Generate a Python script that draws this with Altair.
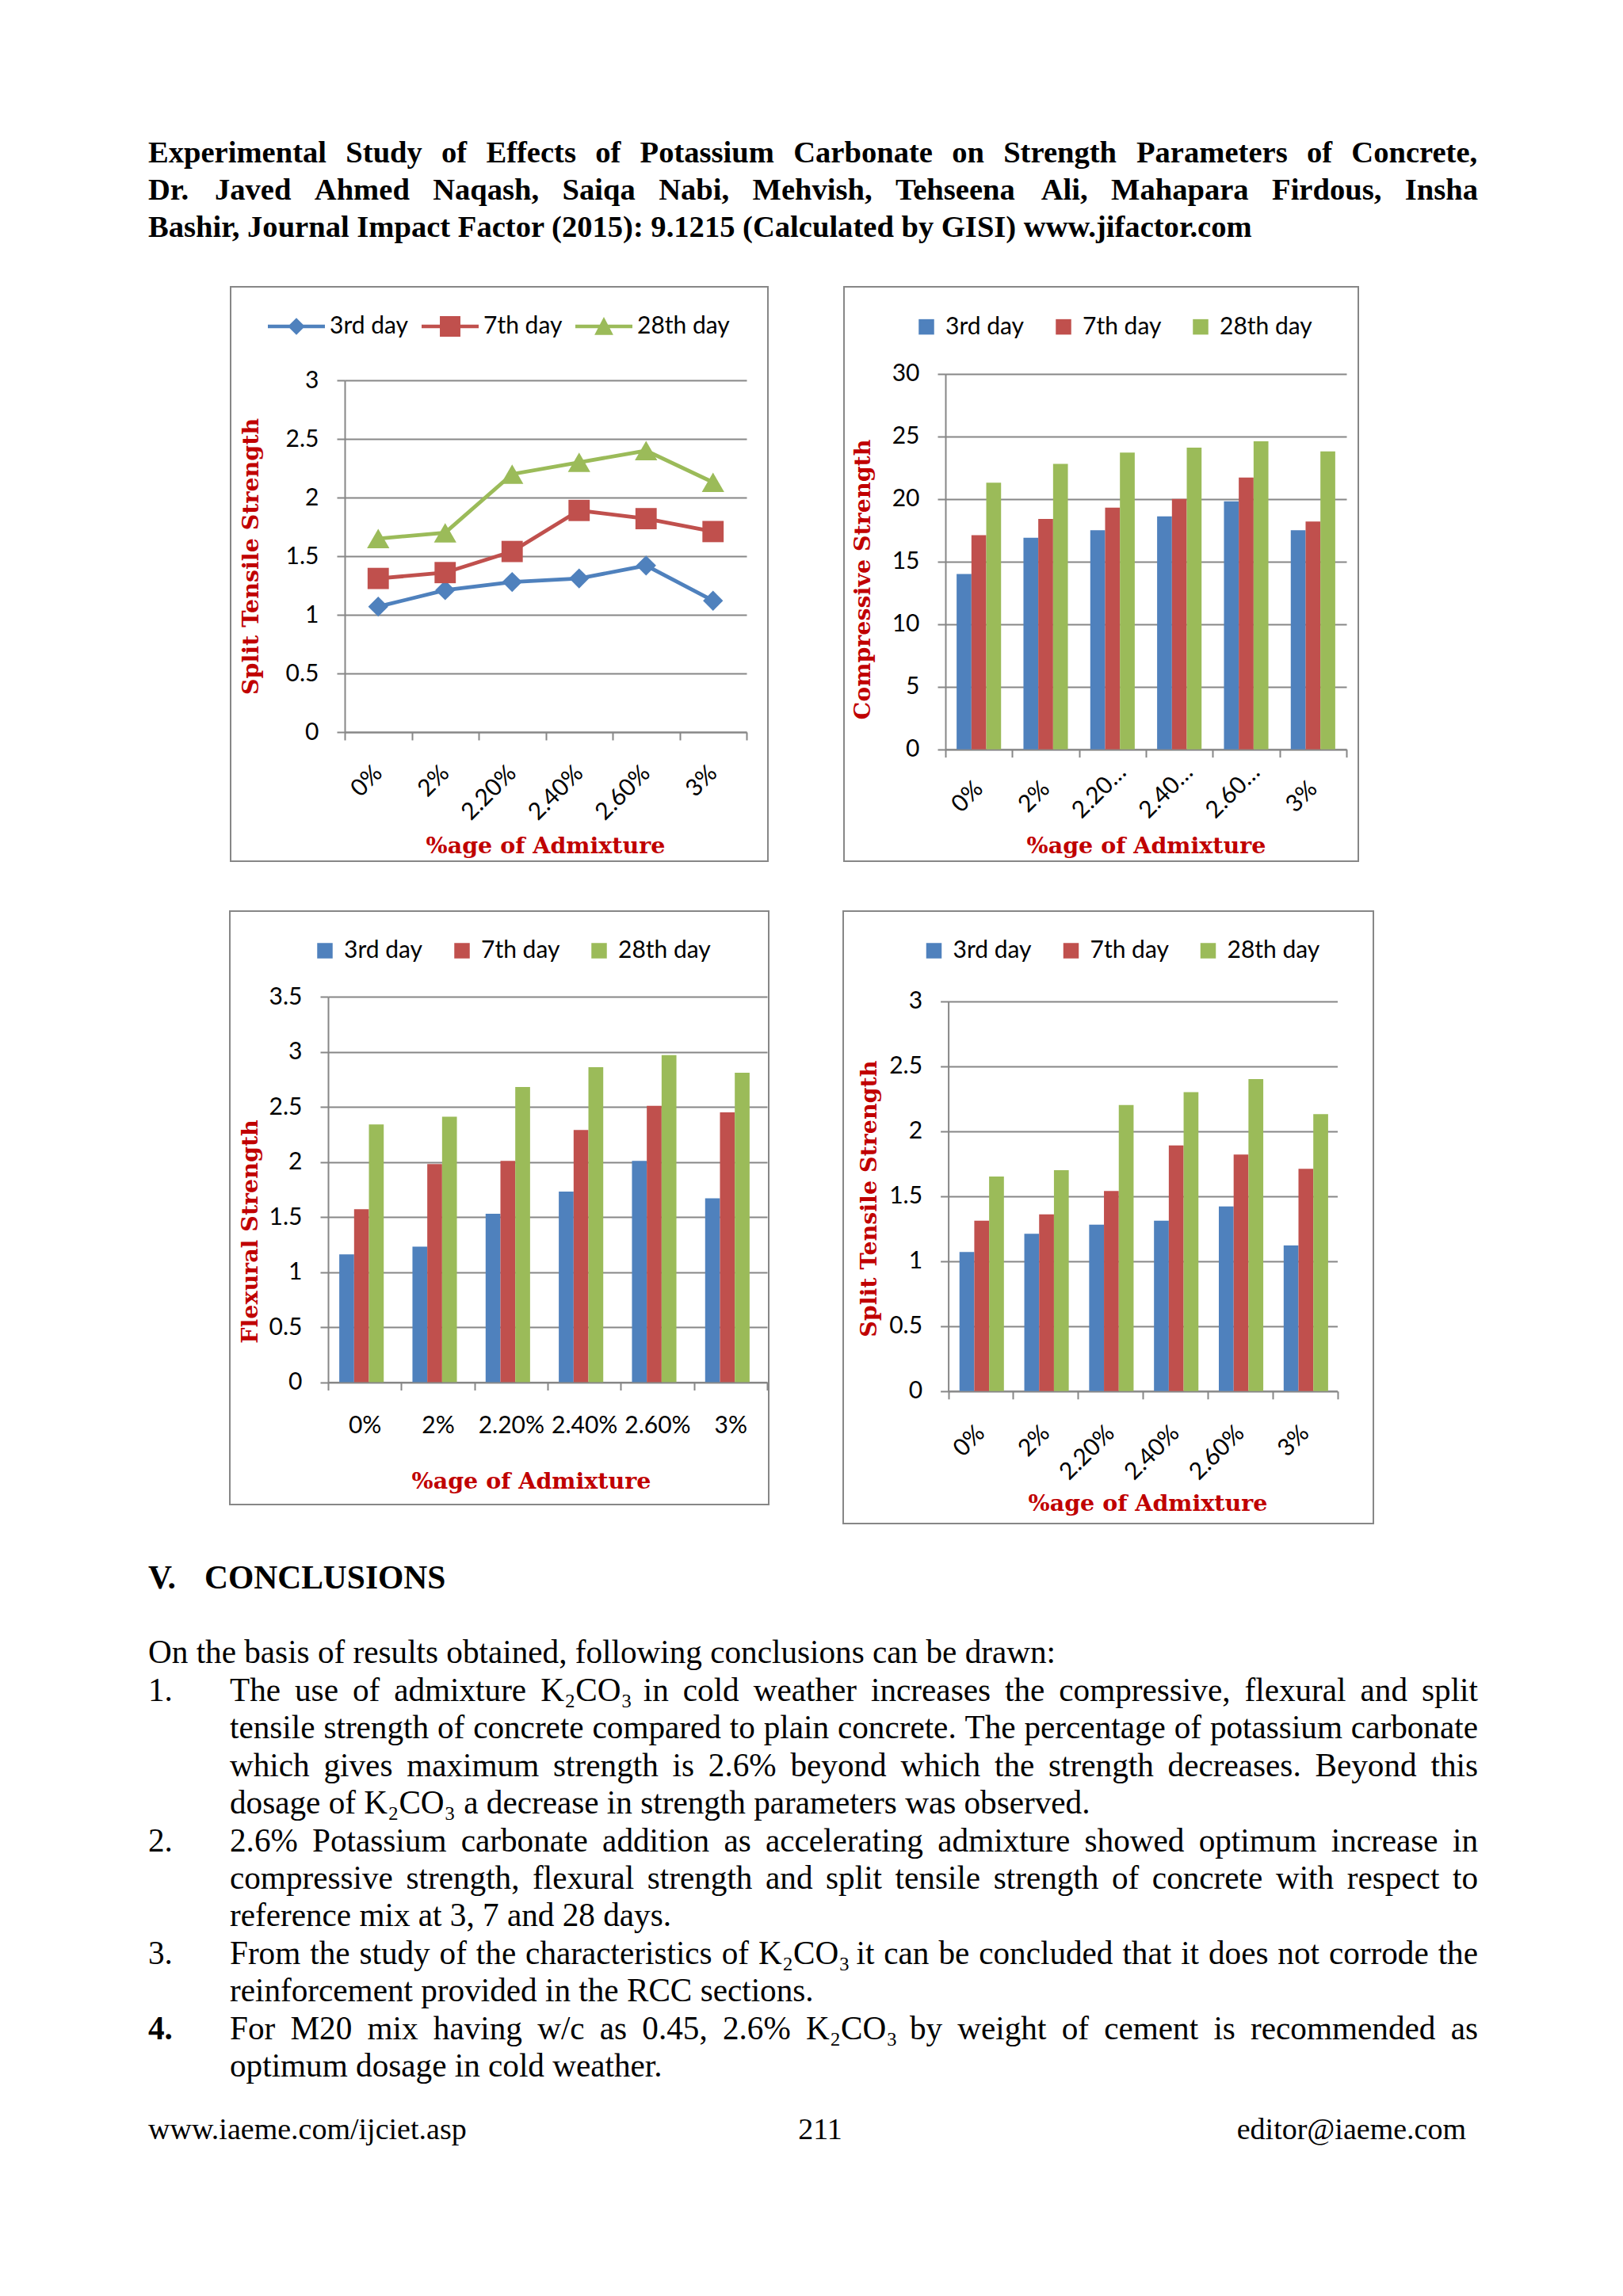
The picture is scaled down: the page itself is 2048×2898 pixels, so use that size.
import altair as alt
import pandas as pd

# ---------------- chart values ----------------
CATEGORIES = ["0%", "2%", "2.20%", "2.40%", "2.60%", "3%"]
SERIES = ["3rd day", "7th day", "28th day"]

SPLIT_3RD = [1.07, 1.21, 1.28, 1.31, 1.42, 1.12]
SPLIT_7TH = [1.31, 1.36, 1.54, 1.89, 1.82, 1.71]
SPLIT_28TH = [1.65, 1.70, 2.20, 2.30, 2.40, 2.13]

COMP_3RD = [14.0, 16.9, 17.5, 18.6, 19.8, 17.5]
COMP_7TH = [17.1, 18.4, 19.3, 20.0, 21.7, 18.2]
COMP_28TH = [21.3, 22.8, 23.7, 24.1, 24.6, 23.8]

FLEX_3RD = [1.16, 1.23, 1.53, 1.73, 2.01, 1.67]
FLEX_7TH = [1.57, 1.98, 2.01, 2.29, 2.51, 2.45]
FLEX_28TH = [2.34, 2.41, 2.68, 2.86, 2.97, 2.81]

SPLIT_TICKS = [0, 0.5, 1, 1.5, 2, 2.5, 3]
COMP_TICKS = [0, 5, 10, 15, 20, 25, 30]
FLEX_TICKS = [0, 0.5, 1, 1.5, 2, 2.5, 3, 3.5]

# ---------------- page text ----------------
HEADER_LINES = [
    "Experimental Study of Effects of Potassium Carbonate on Strength Parameters of Concrete,",
    "Dr. Javed Ahmed Naqash, Saiqa Nabi, Mehvish, Tehseena Ali, Mahapara Firdous, Insha",
    "Bashir, Journal Impact Factor (2015): 9.1215 (Calculated by GISI) www.jifactor.com",
]
HEADER_JUSTIFY = [True, True, False]

SECTION_NUM = "V."
SECTION_TITLE = "CONCLUSIONS"

BODY_NUMBERS = ["", "1.", "", "", "", "2.", "", "", "3.", "", "4.", ""]
BODY_LINES = [
    "On the basis of results obtained, following conclusions can be drawn:",
    "The use of admixture K\u2082CO\u2083 in cold weather increases the compressive, flexural and split",
    "tensile strength of concrete compared to plain concrete. The percentage of potassium carbonate",
    "which gives maximum strength is 2.6% beyond which the strength decreases. Beyond this",
    "dosage of K\u2082CO\u2083 a decrease in strength parameters was observed.",
    "2.6% Potassium carbonate addition as accelerating admixture showed optimum increase in",
    "compressive strength, flexural strength and split tensile strength of concrete with respect to",
    "reference mix at 3, 7 and 28 days.",
    "From the study of the characteristics of K\u2082CO\u2083 it can be concluded that it does not corrode the",
    "reinforcement provided in the RCC sections.",
    "For M20 mix having w/c as 0.45, 2.6% K\u2082CO\u2083 by weight of cement is recommended as",
    "optimum dosage in cold weather.",
]
BODY_JUSTIFY = [False, True, True, True, False, True, True, False, True, False, True, False]

FOOTER_LEFT = "www.iaeme.com/ijciet.asp"
FOOTER_MID = "211"
FOOTER_RIGHT = "editor@iaeme.com"

# ---------------- styles ----------------
COLORS = ["#4F81BD", "#C0504D", "#9BBB59"]
GRID = "#878787"
TITLE_RED = "#C00000"
SERIF = "Liberation Serif"
TITLE_FONT = "DejaVu Serif"
TICK_FONT = "Lato"
M = 40  # invisible margin around every layout cell

# Times metrics (per 1000 em) for justified layout
UP = "ABCDEFGHIJKLMNOPQRSTUVWXYZ"
LO = "abcdefghijklmnopqrstuvwxyz"
REG = dict(zip(UP, [722, 667, 667, 722, 611, 556, 722, 722, 333, 389, 722, 611, 889,
                    722, 722, 556, 722, 667, 556, 611, 722, 722, 944, 722, 722, 611]))
REG.update(zip(LO, [444, 500, 444, 500, 444, 333, 500, 500, 278, 278, 500, 278, 778,
                    500, 500, 500, 500, 333, 389, 278, 500, 500, 722, 500, 500, 444]))
REG.update({" ": 250, ",": 250, ".": 250, ":": 278, ";": 278, "(": 333, ")": 333,
            "%": 833, "/": 278, "@": 921, "-": 333, "\u2082": 300, "\u2083": 300})
BOLD = dict(zip(UP, [722, 667, 722, 722, 667, 611, 778, 778, 389, 500, 778, 667, 944,
                     722, 778, 611, 778, 722, 556, 667, 722, 722, 1000, 722, 722, 667]))
BOLD.update(zip(LO, [500, 556, 444, 556, 444, 333, 500, 556, 278, 333, 556, 278, 833,
                     556, 500, 556, 556, 444, 389, 333, 556, 500, 722, 500, 500, 444]))
BOLD.update({" ": 250, ",": 250, ".": 250, ":": 333, ";": 333, "(": 333, ")": 333,
             "%": 1000, "/": 278, "-": 333})


def text_width(s, table, size):
    return sum(table.get(ch, 500) for ch in s) / 1000.0 * size


def layout_line(text, x0, x1, y, table, size, justify):
    if not justify:
        return [{"x": x0, "y": y, "t": text}]
    words = text.split(" ")
    widths = [text_width(w, table, size) for w in words]
    gap = (x1 - x0 - sum(widths)) / (len(words) - 1)
    out, x = [], x0
    for w, wd in zip(words, widths):
        out.append({"x": x, "y": y, "t": w})
        x += wd + gap
    return out


def long_df(a, b, c):
    rows = []
    for s, vals in zip(SERIES, (a, b, c)):
        for cat, v in zip(CATEGORIES, vals):
            rows.append({"cat": cat, "series": s, "value": v})
    return pd.DataFrame(rows)


ONE = pd.DataFrame({"k": [0]})


class Cell:
    """A layout cell given in page pixels; the view sits M px inside it."""
    def __init__(self, x0, y0, x1, y1):
        self.ox, self.oy = x0 + M, y0 + M
        self.W, self.H = x1 - x0 - 2 * M, y1 - y0 - 2 * M

    def rx(self, px):
        return px - self.ox

    def ry(self, py):
        return py - self.oy

    def cell_layer(self):
        return alt.Chart(ONE).mark_rect(opacity=0).encode(
            x=alt.value(-M), x2=alt.value(self.W + M), y=alt.value(-M), y2=alt.value(self.H + M))

    def frame_layer(self, x0, x1, y0, y1):
        return alt.Chart(ONE).mark_rect(fill="transparent", stroke=GRID, strokeWidth=2).encode(
            x=alt.value(self.rx(x0)), x2=alt.value(self.rx(x1)),
            y=alt.value(self.ry(y0)), y2=alt.value(self.ry(y1)))


def x_axis(offset, tx, ty, angle, pad, label_expr=None, off=0):
    kw = dict(title="%age of Admixture", titleX=tx, titleY=ty, titleAngle=0,
              titleAlign="center", titleBaseline="middle", titleFont=TITLE_FONT,
              titleFontWeight="bold", titleFontSize=28.5, titleColor=TITLE_RED,
              offset=offset, tickBand="extent", ticks=True, tickSize=10, tickColor=GRID,
              tickWidth=2, domainColor=GRID, domainWidth=2, grid=False,
              labelFont=TICK_FONT, labelFontSize=30, labelColor="black", labelAngle=angle,
              labelAlign="right" if angle else "center", labelBaseline="middle",
              labelPadding=pad, labelOffset=off, labelOverlap=False)
    if label_expr:
        kw["labelExpr"] = label_expr
    return alt.Axis(**kw)


def y_axis(title, offset, tx, ty, values):
    return alt.Axis(title=title, values=values, format="~g", offset=offset,
                    titleX=tx, titleY=ty, titleAngle=270, titleAlign="center",
                    titleBaseline="middle", titleFont=TITLE_FONT, titleFontWeight="bold",
                    titleFontSize=28.5, titleColor=TITLE_RED,
                    grid=True, gridColor=GRID, gridWidth=2, ticks=True, tickSize=10,
                    tickColor=GRID, tickWidth=2, domainColor=GRID, domainWidth=2,
                    labelFont=TICK_FONT, labelFontSize=30, labelColor="black", labelPadding=23)


def color_scale():
    return alt.Scale(domain=SERIES, range=COLORS)


def encodings(cell, plot, ydom, yticks, ytitle, ytitle_pos, xtitle_pos, angle, pad, label_expr=None, off=0):
    px0, px1, py0, py1 = plot
    X = alt.X("cat:N", sort=CATEGORIES,
              scale=alt.Scale(type="band", domain=CATEGORIES, range=[cell.rx(px0), cell.rx(px1)],
                              paddingInner=0, paddingOuter=0),
              axis=x_axis(-(cell.H - cell.ry(py1)), cell.rx(xtitle_pos[0]), xtitle_pos[1] - py1,
                          angle, pad, label_expr, off))
    Y = alt.Y("value:Q", scale=alt.Scale(domain=ydom, range=[cell.ry(py1), cell.ry(py0)], nice=False),
              axis=y_axis(ytitle, -cell.rx(px0), ytitle_pos[0] - px0, cell.ry(ytitle_pos[1]), yticks))
    return X, Y


# ---------------- layout cells (page pixels) ----------------
HEAD_CELL = Cell(8, 8, 2024, 340)
C1 = Cell(8, 340, 1016, 1120)
C2 = Cell(1016, 340, 2024, 1120)
C3 = Cell(8, 1120, 1016, 1945)
C4 = Cell(1016, 1120, 2024, 1945)
CONCL_CELL = Cell(8, 1945, 2024, 2870)

# ---------------- chart 1: split tensile (line) ----------------
split_df = long_df(SPLIT_3RD, SPLIT_7TH, SPLIT_28TH)
X1, Y1 = encodings(C1, (435, 942, 480, 924), [0, 3], SPLIT_TICKS, "Split Tensile Strength",
                   (316, 702), (688, 1067.6), -45, 37)

line1 = alt.Chart(split_df).mark_line(strokeWidth=4.8).encode(
    x=X1, y=Y1, color=alt.Color("series:N", scale=color_scale(), legend=None))
pts1 = alt.Chart(split_df).mark_point(filled=True, opacity=1, strokeWidth=0).encode(
    x=X1, y=Y1,
    color=alt.Color("series:N", scale=color_scale(), legend=None),
    shape=alt.Shape("series:N", scale=alt.Scale(domain=SERIES, range=["diamond", "square", "triangle-up"]), legend=None),
    size=alt.Size("series:O", scale=alt.Scale(domain=SERIES, range=[640, 800, 720]), legend=None))

LEG_PATHS = [
    "M-1,-0.0625H1V0.0625H-1Z M-0.3,0L0,-0.3L0.3,0L0,0.3Z",
    "M-1,-0.0625H1V0.0625H-1Z M-0.36,-0.36H0.36V0.36H-0.36Z",
    "M-1,-0.0625H1V0.0625H-1Z M-0.33,0.3L0,-0.33L0.33,0.3Z",
]
leg1_kw = dict(title=None, orient="none", legendX=C1.rx(338), legendY=C1.ry(376), direction="horizontal",
               symbolSize=5184, symbolStrokeWidth=0, labelFont=TICK_FONT, labelFontSize=30,
               labelColor="black", labelOffset=6, columnPadding=16, padding=0)
legend1 = alt.Chart(split_df).transform_filter("datum.value < 0").mark_point(
    filled=True, opacity=1, strokeWidth=0).encode(
    color=alt.Color("series:N", scale=color_scale(), legend=alt.Legend(**leg1_kw)),
    shape=alt.Shape("series:N", scale=alt.Scale(domain=SERIES, range=LEG_PATHS), legend=alt.Legend(**leg1_kw)))

chart1 = alt.layer(
    C1.cell_layer(), C1.frame_layer(291, 969, 362, 1087), line1, pts1, legend1
).resolve_scale(color="independent", shape="independent", size="independent").properties(width=C1.W, height=C1.H)


# ---------------- bar charts ----------------
def bar_chart(df, cell, plot, ydom, yticks, ytitle, ytitle_pos, xtitle_pos, angle, pad, leg_pos, frame,
              label_expr=None, off=0):
    X, Y = encodings(cell, plot, ydom, yticks, ytitle, ytitle_pos, xtitle_pos, angle, pad, label_expr, off)
    XO = alt.XOffset("series:N", sort=SERIES,
                     scale=alt.Scale(domain=SERIES, paddingInner=0, paddingOuter=0.755))
    bars = alt.Chart(df).mark_bar().encode(
        x=X, xOffset=XO, y=Y,
        color=alt.Color("series:N", scale=color_scale(), sort=SERIES,
                        legend=alt.Legend(title=None, orient="none", legendX=cell.rx(leg_pos[0]),
                                          legendY=cell.ry(leg_pos[1]), direction="horizontal",
                                          symbolType="square", symbolSize=380, symbolStrokeWidth=0,
                                          labelFont=TICK_FONT, labelFontSize=30, labelColor="black",
                                          labelOffset=9, columnPadding=34, padding=0)))
    return alt.layer(cell.cell_layer(), cell.frame_layer(*frame), bars).properties(width=cell.W, height=cell.H)


TRUNC = "length(datum.label) > 3 ? substring(datum.label, 0, 4) + '\u2026' : datum.label"
LONG = "length(datum.label) > 3"
PAD2 = {"condition": {"test": LONG, "value": 14}, "value": 35}
OFF2 = {"condition": {"test": LONG, "value": 12}, "value": 0}

chart2 = bar_chart(long_df(COMP_3RD, COMP_7TH, COMP_28TH), C2, (1193, 1699, 471.7, 945.7), [0, 30],
                   COMP_TICKS, "Compressive Strength", (1088, 731), (1446, 1067.6), -45, PAD2,
                   (1154, 397.6), (1065, 1714, 362, 1087), TRUNC, OFF2)
chart3 = bar_chart(long_df(FLEX_3RD, FLEX_7TH, FLEX_28TH), C3, (414, 968, 1258, 1744.6), [0, 3.5],
                   FLEX_TICKS, "Flexural Strength", (315, 1554), (670, 1869), 0, 45,
                   (395, 1185), (290, 970, 1150, 1899))
chart4 = bar_chart(long_df(SPLIT_3RD, SPLIT_7TH, SPLIT_28TH), C4, (1196.6, 1687.5, 1263.6, 1755.8), [0, 3],
                   SPLIT_TICKS, "Split Tensile Strength", (1096.4, 1512.7), (1448, 1897), -45, 38,
                   (1163.5, 1185), (1064, 1733, 1150, 1923))

# ---------------- text blocks ----------------
X_LEFT, X_INDENT, X_RIGHT = 187, 290, 1865
HEAD_SIZE, BODY_SIZE = 38.6, 41.2

head_rows = []
for i, (txt, j) in enumerate(zip(HEADER_LINES, HEADER_JUSTIFY)):
    head_rows += layout_line(txt, X_LEFT, X_RIGHT, 204.5 + 47.3 * i, BOLD, HEAD_SIZE, j)
head_df = pd.DataFrame(head_rows)


def text_chart(cell, layers):
    charts = [cell.cell_layer()]
    for df, kw in layers:
        charts.append(alt.Chart(df).mark_text(baseline="alphabetic", color="black", **kw).encode(
            x=alt.X("x:Q", scale=alt.Scale(domain=[cell.ox, cell.ox + cell.W], range=[0, cell.W],
                                           nice=False, zero=False), axis=None),
            y=alt.Y("y:Q", scale=alt.Scale(domain=[cell.oy, cell.oy + cell.H], range=[0, cell.H],
                                           nice=False, zero=False), axis=None),
            text="t:N"))
    return alt.layer(*charts).properties(width=cell.W, height=cell.H)


header = text_chart(HEAD_CELL, [(head_df, dict(align="left", font=SERIF, fontSize=HEAD_SIZE, fontWeight="bold"))])

body_rows, num_rows, num_bold_rows = [], [], []
for k, (num, txt, j) in enumerate(zip(BODY_NUMBERS, BODY_LINES, BODY_JUSTIFY)):
    y = 2099.3 + 47.45 * k
    x0 = X_LEFT if (k == 0) else X_INDENT
    body_rows += layout_line(txt, x0, X_RIGHT, y, REG, BODY_SIZE, j)
    if num:
        (num_bold_rows if num == "4." else num_rows).append({"x": X_LEFT, "y": y, "t": num})
body_df = pd.DataFrame(body_rows)
num_df = pd.DataFrame(num_rows)
num_bold_df = pd.DataFrame(num_bold_rows)
sec_df = pd.DataFrame([{"x": X_LEFT, "y": 2005, "t": SECTION_NUM}, {"x": 258, "y": 2005, "t": SECTION_TITLE}])
foot_l = pd.DataFrame([{"x": X_LEFT, "y": 2700, "t": FOOTER_LEFT}])
foot_m = pd.DataFrame([{"x": 1035, "y": 2700, "t": FOOTER_MID}])
foot_r = pd.DataFrame([{"x": 1850, "y": 2700, "t": FOOTER_RIGHT}])

concl = text_chart(CONCL_CELL, [
    (sec_df, dict(align="left", font=SERIF, fontSize=41.5, fontWeight="bold")),
    (body_df, dict(align="left", font=SERIF, fontSize=BODY_SIZE)),
    (num_df, dict(align="left", font=SERIF, fontSize=BODY_SIZE)),
    (num_bold_df, dict(align="left", font=SERIF, fontSize=BODY_SIZE, fontWeight="bold")),
    (foot_l, dict(align="left", font=SERIF, fontSize=38)),
    (foot_m, dict(align="center", font=SERIF, fontSize=38)),
    (foot_r, dict(align="right", font=SERIF, fontSize=38)),
])

row1 = alt.hconcat(chart1, chart2, spacing=0).resolve_scale(color="independent").resolve_legend(color="independent")
row2 = alt.hconcat(chart3, chart4, spacing=0).resolve_scale(color="independent").resolve_legend(color="independent")

chart = alt.vconcat(header, row1, row2, concl, spacing=0).resolve_scale(
    color="independent").resolve_legend(color="independent").properties(
    padding=0, background="white").configure_view(stroke=None)

chart.save("out.html", embed_options={"renderer": "svg", "actions": False})
